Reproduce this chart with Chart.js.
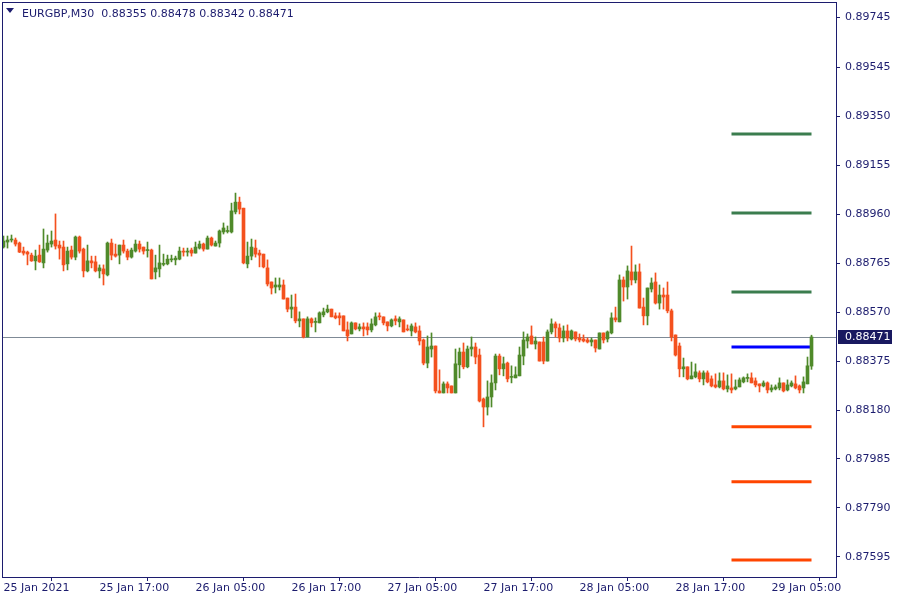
<!DOCTYPE html>
<html><head><meta charset="utf-8">
<script src="https://cdn.jsdelivr.net/npm/chart.js@4.4.1/dist/chart.umd.min.js"></script>
<style>html,body{margin:0;padding:0;background:#fff}#wrap{width:900px;height:600px}</style>
</head><body><div id="wrap"><canvas id="c" width="900" height="600"></canvas></div>
<script>
const symbolTitle = 'EURGBP,M30';
const lastQuote = ['0.88355', '0.88478', '0.88342', '0.88471'];

const open = [
0.88829,0.88849,0.88857,0.88857,0.88845,0.88813,0.88809,0.88797,0.88774,0.88797,
0.88766,0.88817,0.88841,0.88857,0.88837,0.88829,0.88762,0.88817,0.88789,0.88869,
0.88821,0.88734,0.88774,0.88770,0.88734,0.88742,0.88718,0.88845,0.88801,0.88797,
0.88837,0.88813,0.88789,0.88813,0.88841,0.88829,0.88815,0.88817,0.88730,0.88742,
0.88760,0.88762,0.88778,0.88778,0.88781,0.88811,0.88809,0.88817,0.88805,0.88825,
0.88841,0.88821,0.88865,0.88833,0.88845,0.88889,0.88891,0.88889,0.88969,0.89008,
0.88984,0.88762,0.88793,0.88825,0.88805,0.88801,0.88746,0.88690,0.88670,0.88670,
0.88678,0.88626,0.88582,0.88590,0.88535,0.88543,0.88471,0.88543,0.88529,0.88527,
0.88559,0.88571,0.88582,0.88555,0.88555,0.88555,0.88499,0.88483,0.88527,0.88503,
0.88511,0.88511,0.88499,0.88519,0.88555,0.88551,0.88531,0.88515,0.88543,0.88531,
0.88539,0.88501,0.88495,0.88511,0.88495,0.88459,0.88367,0.88423,0.88435,0.88256,
0.88248,0.88284,0.88276,0.88248,0.88360,0.88411,0.88352,0.88423,0.88431,0.88399,
0.88224,0.88192,0.88232,0.88288,0.88395,0.88344,0.88367,0.88310,0.88308,0.88316,
0.88395,0.88455,0.88475,0.88443,0.88451,0.88451,0.88375,0.88491,0.88523,0.88507,
0.88467,0.88495,0.88463,0.88491,0.88467,0.88463,0.88459,0.88451,0.88459,0.88423,
0.88487,0.88463,0.88487,0.88547,0.88531,0.88698,0.88670,0.88730,0.88698,0.88730,
0.88590,0.88555,0.88662,0.88690,0.88606,0.88638,0.88638,0.88575,0.88479,0.88435,
0.88344,0.88352,0.88304,0.88312,0.88328,0.88304,0.88328,0.88304,0.88280,0.88272,
0.88296,0.88264,0.88268,0.88264,0.88272,0.88292,0.88306,0.88308,0.88296,0.88284,
0.88276,0.88288,0.88260,0.88264,0.88268,0.88288,0.88260,0.88276,0.88284,0.88276,
0.88268,0.88284,0.88355];

const high = [
0.88873,0.88873,0.88877,0.88865,0.88849,0.88829,0.88813,0.88805,0.88817,0.88837,
0.88901,0.88877,0.88893,0.88961,0.88853,0.88853,0.88829,0.88833,0.88873,0.88873,
0.88825,0.88837,0.88793,0.88793,0.88758,0.88758,0.88849,0.88861,0.88841,0.88837,
0.88857,0.88821,0.88825,0.88857,0.88853,0.88829,0.88849,0.88821,0.88797,0.88837,
0.88801,0.88797,0.88797,0.88793,0.88829,0.88825,0.88825,0.88825,0.88849,0.88853,
0.88845,0.88873,0.88869,0.88853,0.88897,0.88925,0.88913,0.89004,0.89044,0.89028,
0.88984,0.88849,0.88861,0.88857,0.88817,0.88801,0.88778,0.88690,0.88706,0.88706,
0.88698,0.88626,0.88638,0.88642,0.88571,0.88543,0.88551,0.88547,0.88547,0.88571,
0.88586,0.88598,0.88582,0.88567,0.88567,0.88555,0.88531,0.88531,0.88527,0.88523,
0.88527,0.88527,0.88543,0.88567,0.88567,0.88551,0.88531,0.88543,0.88555,0.88551,
0.88539,0.88519,0.88523,0.88527,0.88515,0.88463,0.88475,0.88487,0.88435,0.88340,
0.88292,0.88292,0.88276,0.88423,0.88427,0.88447,0.88435,0.88471,0.88447,0.88423,
0.88228,0.88296,0.88320,0.88403,0.88403,0.88391,0.88371,0.88356,0.88352,0.88431,
0.88491,0.88483,0.88515,0.88471,0.88451,0.88471,0.88499,0.88543,0.88531,0.88523,
0.88515,0.88519,0.88499,0.88491,0.88483,0.88479,0.88467,0.88467,0.88459,0.88487,
0.88487,0.88495,0.88567,0.88590,0.88718,0.88710,0.88754,0.88833,0.88758,0.88762,
0.88626,0.88666,0.88706,0.88726,0.88678,0.88666,0.88690,0.88582,0.88479,0.88447,
0.88387,0.88352,0.88371,0.88364,0.88336,0.88336,0.88336,0.88316,0.88324,0.88328,
0.88328,0.88320,0.88324,0.88300,0.88308,0.88312,0.88324,0.88328,0.88308,0.88284,
0.88296,0.88292,0.88280,0.88280,0.88308,0.88288,0.88300,0.88296,0.88316,0.88280,
0.88312,0.88391,0.88478];

const low = [
0.88825,0.88825,0.88849,0.88833,0.88807,0.88797,0.88758,0.88772,0.88738,0.88768,
0.88746,0.88809,0.88829,0.88821,0.88781,0.88734,0.88738,0.88781,0.88778,0.88805,
0.88710,0.88730,0.88746,0.88730,0.88706,0.88678,0.88714,0.88778,0.88789,0.88762,
0.88805,0.88778,0.88785,0.88809,0.88809,0.88801,0.88789,0.88702,0.88702,0.88710,
0.88754,0.88758,0.88770,0.88758,0.88778,0.88793,0.88793,0.88793,0.88805,0.88821,
0.88813,0.88821,0.88833,0.88833,0.88829,0.88881,0.88885,0.88885,0.88961,0.88961,
0.88762,0.88746,0.88778,0.88789,0.88750,0.88746,0.88674,0.88642,0.88646,0.88658,
0.88622,0.88571,0.88547,0.88527,0.88511,0.88467,0.88471,0.88511,0.88491,0.88527,
0.88551,0.88567,0.88551,0.88543,0.88519,0.88495,0.88455,0.88483,0.88499,0.88495,
0.88475,0.88479,0.88491,0.88515,0.88539,0.88519,0.88495,0.88511,0.88519,0.88511,
0.88491,0.88495,0.88475,0.88487,0.88439,0.88360,0.88348,0.88391,0.88248,0.88248,
0.88248,0.88248,0.88248,0.88248,0.88308,0.88344,0.88348,0.88395,0.88364,0.88212,
0.88113,0.88160,0.88192,0.88260,0.88320,0.88316,0.88292,0.88288,0.88308,0.88316,
0.88360,0.88427,0.88443,0.88423,0.88375,0.88364,0.88375,0.88483,0.88471,0.88451,
0.88451,0.88455,0.88459,0.88455,0.88451,0.88451,0.88447,0.88435,0.88411,0.88423,
0.88447,0.88451,0.88483,0.88531,0.88531,0.88614,0.88622,0.88678,0.88686,0.88586,
0.88519,0.88519,0.88650,0.88602,0.88582,0.88582,0.88567,0.88455,0.88395,0.88312,
0.88312,0.88300,0.88304,0.88308,0.88292,0.88280,0.88288,0.88272,0.88268,0.88268,
0.88260,0.88252,0.88248,0.88260,0.88272,0.88288,0.88292,0.88288,0.88272,0.88252,
0.88272,0.88248,0.88252,0.88260,0.88260,0.88252,0.88256,0.88272,0.88264,0.88248,
0.88248,0.88284,0.88342];

const close = [
0.88853,0.88857,0.88859,0.88841,0.88809,0.88805,0.88801,0.88774,0.88793,0.88770,
0.88821,0.88845,0.88853,0.88833,0.88825,0.88758,0.88813,0.88789,0.88869,0.88813,
0.88734,0.88774,0.88766,0.88734,0.88746,0.88722,0.88845,0.88797,0.88793,0.88837,
0.88813,0.88789,0.88817,0.88841,0.88821,0.88813,0.88817,0.88702,0.88746,0.88766,
0.88762,0.88781,0.88781,0.88785,0.88813,0.88809,0.88813,0.88805,0.88829,0.88841,
0.88821,0.88865,0.88837,0.88845,0.88893,0.88905,0.88893,0.88973,0.89008,0.88980,
0.88766,0.88793,0.88829,0.88801,0.88797,0.88750,0.88682,0.88666,0.88678,0.88678,
0.88622,0.88582,0.88590,0.88535,0.88543,0.88471,0.88543,0.88527,0.88531,0.88567,
0.88571,0.88582,0.88551,0.88547,0.88547,0.88495,0.88475,0.88527,0.88503,0.88511,
0.88503,0.88499,0.88523,0.88551,0.88551,0.88527,0.88515,0.88539,0.88535,0.88543,
0.88491,0.88499,0.88515,0.88491,0.88455,0.88367,0.88431,0.88435,0.88256,0.88248,
0.88284,0.88268,0.88248,0.88364,0.88411,0.88352,0.88423,0.88431,0.88391,0.88216,
0.88192,0.88232,0.88288,0.88395,0.88344,0.88364,0.88304,0.88312,0.88320,0.88399,
0.88459,0.88471,0.88443,0.88455,0.88375,0.88375,0.88491,0.88523,0.88507,0.88467,
0.88495,0.88467,0.88495,0.88463,0.88459,0.88455,0.88451,0.88459,0.88427,0.88487,
0.88459,0.88491,0.88547,0.88539,0.88698,0.88670,0.88734,0.88698,0.88730,0.88586,
0.88555,0.88666,0.88686,0.88606,0.88638,0.88630,0.88575,0.88471,0.88399,0.88344,
0.88352,0.88304,0.88316,0.88332,0.88304,0.88328,0.88292,0.88276,0.88272,0.88296,
0.88264,0.88276,0.88260,0.88272,0.88300,0.88308,0.88308,0.88288,0.88280,0.88276,
0.88288,0.88260,0.88268,0.88272,0.88288,0.88256,0.88280,0.88288,0.88268,0.88260,
0.88292,0.88356,0.88471];

const tickCandles = [0, 24, 48, 72, 96, 120, 144, 168, 192];
const xTickLabels = ['25 Jan 2021', '25 Jan 17:00', '26 Jan 05:00', '26 Jan 17:00', '27 Jan 05:00',
                     '27 Jan 17:00', '28 Jan 05:00', '28 Jan 17:00', '29 Jan 05:00'];
const yTickValues = [0.89745, 0.89545, 0.89350, 0.89155, 0.88960, 0.88765,
                     0.88570, 0.88375, 0.88180, 0.87985, 0.87790, 0.87595];

const resistanceLevels = [0.89279, 0.88965, 0.88650];
const pivotLevel = 0.88431;
const supportLevels = [0.88113, 0.87894, 0.87583];
const levelFrom = 182, levelTo = 202;

const NAVY = '#1c1c6e';
const UP = '#4f8a2a';
const DOWN = '#f4511e';
const FONT = 'DejaVu Sans';

const candleColors = open.map((o, i) => close[i] >= o ? UP : DOWN);
const wickData = open.map((o, i) => ({x: i, y: [low[i], high[i]]}));
const bodyData = open.map((o, i) => ({x: i, y: [o, close[i]]}));

function levelDataset(v, color) {
  return {type: 'line', data: [{x: levelFrom, y: v}, {x: levelTo, y: v}],
    borderColor: color, borderWidth: 3, pointRadius: 0, borderCapStyle: 'butt',
    order: 5};
}

const mt4Plugin = {
  id: 'mt4',
  beforeDatasetsDraw(chart) {
    const {ctx, chartArea: a, scales: {y}} = chart;
    const py = Math.round(y.getPixelForValue(close[close.length - 1])) + 0.5;
    ctx.save();
    ctx.strokeStyle = '#7f8a96';
    ctx.lineWidth = 1;
    ctx.beginPath(); ctx.moveTo(a.left, py); ctx.lineTo(a.right, py); ctx.stroke();
    ctx.restore();
  },
  afterDraw(chart) {
    const {ctx, chartArea: a, scales: {y}} = chart;
    ctx.save();
    // frame left/top
    ctx.fillStyle = NAVY;
    ctx.fillRect(a.left, a.top, 1, a.bottom - a.top);
    ctx.fillRect(a.left, a.top, a.right - a.left, 1);
    // current price label
    const py = Math.round(y.getPixelForValue(close[close.length - 1]));
    ctx.fillStyle = '#191960';
    ctx.fillRect(a.right + 2, py - 7, 54, 14);
    ctx.fillStyle = '#ffffff';
    ctx.font = '11px "' + FONT + '"';
    ctx.textBaseline = 'middle';
    ctx.textAlign = 'left';
    ctx.fillText(close[close.length - 1].toFixed(5), a.right + 9, py + 0.5);
    // title
    ctx.fillStyle = NAVY;
    ctx.beginPath();
    ctx.moveTo(a.left + 4, a.top + 6); ctx.lineTo(a.left + 12, a.top + 6); ctx.lineTo(a.left + 8, a.top + 11);
    ctx.closePath(); ctx.fill();
    ctx.textBaseline = 'alphabetic';
    ctx.fillText(symbolTitle + '  ' + lastQuote.join(' '), a.left + 20, a.top + 15);
    ctx.restore();
  }
};

const datasets = [
  {label: 'wick', data: wickData, backgroundColor: candleColors, barThickness: 1,
   grouped: false, borderWidth: 0, order: 1},
  {label: 'body', data: bodyData, backgroundColor: candleColors, barThickness: 3,
   grouped: false, borderWidth: 0, minBarLength: 1, order: 0}
];
resistanceLevels.forEach(v => datasets.push(levelDataset(v, '#3b7d4e')));
datasets.push(levelDataset(pivotLevel, '#0000ff'));
supportLevels.forEach(v => datasets.push(levelDataset(v, '#ff4500')));

new Chart(document.getElementById('c'), {
  type: 'bar',
  data: {datasets},
  options: {
    responsive: false, animation: false, devicePixelRatio: 1,
    layout: {padding: {left: 2, top: 2, right: 0, bottom: 0}},
    plugins: {legend: {display: false}, tooltip: {enabled: false}},
    scales: {
      x: {
        type: 'linear', min: -0.375, max: 208.125, offset: false,
        afterBuildTicks: s => { s.ticks = tickCandles.map(v => ({value: v})); },
        afterFit: s => { s.height = 23; s.paddingLeft = 0; s.paddingRight = 0; },
        ticks: {autoSkip: false, maxRotation: 0, minRotation: 0, align: 'start', padding: 1,
          color: NAVY, font: {family: FONT, size: 11},
          callback: v => xTickLabels[tickCandles.indexOf(v)]},
        grid: {drawOnChartArea: false, drawTicks: true, tickLength: 4, color: NAVY},
        border: {display: true, color: NAVY, width: 1}
      },
      y: {
        position: 'right', min: 0.87515, max: 0.89805,
        afterBuildTicks: s => { s.ticks = yTickValues.map(v => ({value: v})); },
        afterFit: s => { s.width = 64; s.paddingTop = 0; s.paddingBottom = 0; },
        ticks: {padding: 5, color: NAVY, font: {family: FONT, size: 11},
          callback: v => v.toFixed(5)},
        grid: {drawOnChartArea: false, drawTicks: true, tickLength: 4, color: NAVY},
        border: {display: true, color: NAVY, width: 1}
      }
    }
  },
  plugins: [mt4Plugin]
});
</script>
</body></html>
